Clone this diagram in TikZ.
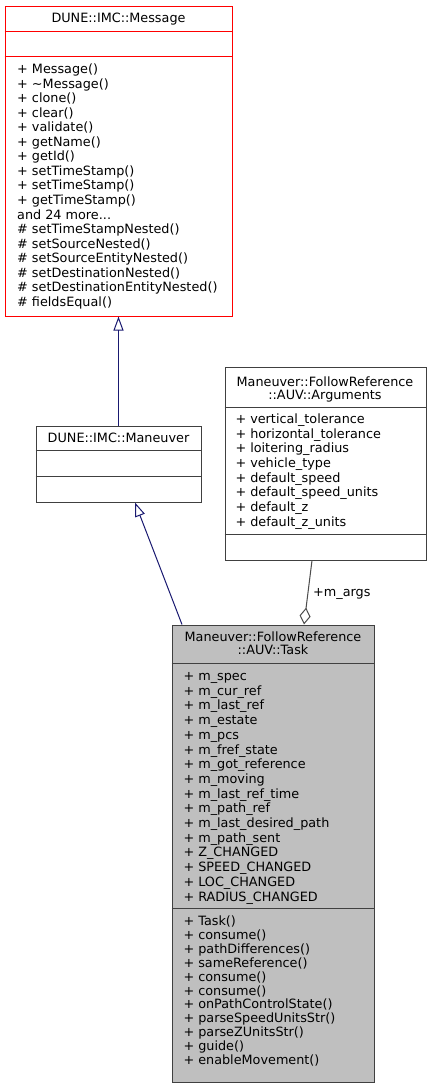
\documentclass[tikz,border=0pt]{standalone}
\usepackage{fontspec}
\setmainfont{DejaVu Sans}
\usetikzlibrary{arrows.meta}

\definecolor{midnight}{RGB}{25,25,112}
\newcommand\moremsg{and 24 more...}

\tikzset{
  classbox/.style={draw=black!75, line width=1pt, fill=white, inner sep=0pt},
  sepline/.style={draw=black!75, line width=1pt},
  rowtext/.style={anchor=base west, inner sep=0pt, font=\fontsize{12.8}{14.6}\selectfont},
  titletext/.style={anchor=base, inner sep=0pt, font=\fontsize{12.8}{14.6}\selectfont},
  inherit/.style={draw=midnight, line width=1pt, -{Triangle[open, length=14pt, width=10pt]}},
  member/.style={draw=black!70, line width=1pt, {Diamond[open, length=17pt, width=11pt]}-},
}

\begin{document}
\begin{tikzpicture}[x=1pt, y=-1pt]
  \useasboundingbox (0,0) rectangle (431,1088);

  % Base class DUNE::IMC::Message
  \node[classbox, draw=red, minimum width=227pt, minimum height=310pt] (msg) at (118.5,161) {};
  \draw[sepline, draw=red] ([yshift=-26pt]msg.north west) -- ([yshift=-26pt]msg.north east);
  \draw[sepline, draw=red] ([yshift=-51pt]msg.north west) -- ([yshift=-51pt]msg.north east);
  \node[titletext] (msgtitle) at (118.5,22) {DUNE::IMC::Message};
  \foreach \t [count=\i] in {+ Message(), + \textasciitilde Message(), + clone(), + clear(),
      + validate(), + getName(), + getId(), + setTimeStamp(), + setTimeStamp(),
      + getTimeStamp(), \moremsg, \# setTimeStampNested(), \# setSourceNested(),
      \# setSourceEntityNested(), \# setDestinationNested(),
      \# setDestinationEntityNested(), \# fieldsEqual()}
    \node[rowtext] (msgop\i) at (17, {73.5+14.56*(\i-1)}) {\t};

  % DUNE::IMC::Maneuver
  \node[classbox, minimum width=165pt, minimum height=76pt] (mnv) at (118.5,464) {};
  \draw[sepline] ([yshift=-25pt]mnv.north west) -- ([yshift=-25pt]mnv.north east);
  \draw[sepline] ([yshift=-51pt]mnv.north west) -- ([yshift=-51pt]mnv.north east);
  \node[titletext] (mnvtitle) at (118.5,442.7) {DUNE::IMC::Maneuver};

  % Arguments
  \node[classbox, minimum width=201pt, minimum height=193pt] (args) at (325.5,463.5) {};
  \draw[sepline] ([yshift=-40.7pt]args.north west) -- ([yshift=-40.7pt]args.north east);
  \draw[sepline] ([yshift=-168pt]args.north west) -- ([yshift=-168pt]args.north east);
  \node[titletext] (argstitlea) at (325,386) {Maneuver::FollowReference};
  \node[titletext] (argstitleb) at (325,399) {::AUV::Arguments};
  \foreach \t [count=\i] in {+ vertical\_tolerance, + horizontal\_tolerance,
      + loitering\_radius, + vehicle\_type, + default\_speed, + default\_speed\_units,
      + default\_z, + default\_z\_units}
    \node[rowtext] (argsattr\i) at (235.3, {423.3+14.7*(\i-1)}) {\t};

  % Task
  \node[classbox, fill=black!25, minimum width=202pt, minimum height=457pt] (task) at (273,853.5) {};
  \draw[sepline] ([yshift=-39.3pt]task.north west) -- ([yshift=-39.3pt]task.north east);
  \draw[sepline] ([yshift=-284pt]task.north west) -- ([yshift=-284pt]task.north east);
  \node[titletext] (tasktitlea) at (273,641.7) {Maneuver::FollowReference};
  \node[titletext] (tasktitleb) at (273,654.5) {::AUV::Task};
  \foreach \t [count=\i] in {+ m\_spec, + m\_cur\_ref, + m\_last\_ref, + m\_estate,
      + m\_pcs, + m\_fref\_state, + m\_got\_reference, + m\_moving, + m\_last\_ref\_time,
      + m\_path\_ref, + m\_last\_desired\_path, + m\_path\_sent, + Z\_CHANGED,
      + SPEED\_CHANGED, + LOC\_CHANGED, + RADIUS\_CHANGED}
    \node[rowtext] (taskattr\i) at (183.3, {680.5+14.7*(\i-1)}) {\t};
  \foreach \t [count=\i] in {+ Task(), + consume(), + pathDifferences(),
      + sameReference(), + consume(), + consume(), + onPathControlState(),
      + parseSpeedUnitsStr(), + parseZUnitsStr(), + guide(), + enableMovement()}
    \node[rowtext] (taskop\i) at (183.3, {925.7+13.86*(\i-1)}) {\t};

  % Relations
  \draw[inherit] (mnv.north) -- (msg.south);
  \draw[inherit] ([xshift=-91pt]task.north) -- ([xshift=16.5pt]mnv.south);
  \draw[member] ([xshift=31pt]task.north) -- ([xshift=-13.5pt]args.south);
  \node[rowtext] (argslabel) at (313,596) {+m\_args};
\end{tikzpicture}
\end{document}
